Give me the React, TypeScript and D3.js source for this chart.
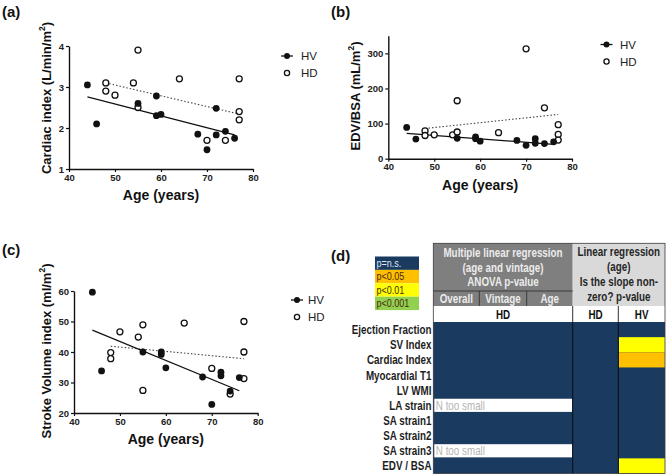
import React, { useEffect, useRef } from 'react';
import * as d3 from 'd3';

// ages of the subjects (same in every panel)
const hvAge = [44, 46, 55, 59, 59, 60, 68, 70, 72, 72, 74, 76];
const hdAge = [48, 48, 50, 54, 55, 55, 64, 70, 74, 77, 77, 77];

// (a) cardiac index
const ciHV = [3.05, 2.1, 2.6, 2.78, 2.3, 2.33, 1.85, 1.47, 2.48, 1.83, 1.92, 1.75];
const ciHD = [3.1, 2.9, 2.8, 3.1, 3.9, 2.5, 3.2, 1.7, 1.7, 3.2, 2.4, 2.2];
const ciFitHV: [number, number][] = [[44, 2.76], [76, 1.83]];
const ciFitHD: [number, number][] = [[48, 3.1], [77, 2.34]];

// (b) EDV/BSA
const edvHV = [89, 56, 58, 62, 57, 50, 52, 38, 57, 44, 43, 48];
const edvHD = [79, 66, 68, 68, 165, 76, 74, 313, 145, 97, 69, 53];
const edvFitHV: [number, number][] = [[44, 72], [76, 41]];
const edvFitHD: [number, number][] = [[48, 86], [77, 126]];

// (c) stroke volume index
const sviHV = [59.6, 33.8, 40, 40, 39.2, 34.8, 31.8, 22.8, 33.4, 32.2, 27.2, 31.6];
const sviHD = [39.8, 37.8, 46.6, 44.9, 48.9, 27.4, 49.5, 34.6, 26.2, 50, 40, 31.3];
const sviFitHV: [number, number][] = [[44, 47.2], [76, 27.3]];
const sviFitHD: [number, number][] = [[48, 41.9], [77, 37.8]];

const xTicks = [40, 50, 60, 70, 80];

// (d) table
const rowLabels = ['Ejection Fraction', 'SV Index', 'Cardiac Index', 'Myocardial T1', 'LV WMI',
  'LA strain', 'SA strain1', 'SA strain2', 'SA strain3', 'EDV / BSA'];
const mlrStatus = ['ns', 'ns', 'ns', 'ns', 'ns', 'small', 'ns', 'ns', 'small', 'ns'];
const hdSlopeStatus = ['ns', 'ns', 'ns', 'ns', 'ns', 'ns', 'ns', 'ns', 'ns', 'ns'];
const hvSlopeStatus = ['ns', 'p01', 'p05', 'ns', 'ns', 'ns', 'ns', 'ns', 'ns', 'p01'];
const legendKeys = ['ns', 'p05', 'p01', 'p001'];
const legendLabels = ['p=n.s.', 'p<0.05', 'p<0.01', 'p<0.001'];

const NAVY = '#1a3a60';
const statusColor: Record<string, string> = {
  ns: NAVY, p05: '#ffc000', p01: '#ffff00', p001: '#92d050', small: '#ffffff',
};

const FONT = 'Arial, "Liberation Sans", sans-serif';

interface PanelProps {
  tag: string;
  tagY: number;
  x0: number; x1: number;
  yDomain: [number, number];
  yRange: [number, number];
  yTicks: number[];
  hv: number[]; hd: number[];
  fitHV: [number, number][]; fitHD: [number, number][];
  title: string;
  titleX: number; titleY: number;
  xTitleY: number;
  legendX: number; legendY: number; legendTextX: number;
  tagX: number;
}

const ScatterPanel: React.FC<PanelProps> = (p) => {
  const ref = useRef<SVGGElement>(null);

  useEffect(() => {
    if (!ref.current) return;
    const g = d3.select(ref.current);
    g.selectAll('*').remove();

    const x = d3.scaleLinear().domain([40, 80]).range([p.x0, p.x1]);
    const y = d3.scaleLinear().domain(p.yDomain).range(p.yRange);

    const xAxis = g.append('g')
      .attr('transform', `translate(0,${p.yRange[0]})`)
      .call(d3.axisBottom(x).tickValues(xTicks).tickFormat(d3.format('d')).tickSize(3).tickSizeOuter(0).tickPadding(2));
    const yAxis = g.append('g')
      .attr('transform', `translate(${p.x0},0)`)
      .call(d3.axisLeft(y).tickValues(p.yTicks).tickFormat(d3.format('d')).tickSize(3).tickSizeOuter(0).tickPadding(2));
    [xAxis, yAxis].forEach(a => {
      a.select('.domain').attr('stroke', '#111').attr('stroke-width', 1.4);
      a.selectAll('.tick line').attr('stroke', '#111').attr('stroke-width', 1.2);
      a.selectAll('.tick text')
        .attr('font-family', FONT).attr('font-size', 9.5).attr('font-weight', 'bold').attr('fill', '#222');
    });

    const line = d3.line<[number, number]>().x(d => x(d[0])).y(d => y(d[1]));
    g.append('path').attr('d', line(p.fitHD) || '')
      .attr('stroke', '#444').attr('stroke-width', 1.1).attr('stroke-dasharray', '1.5,2')
      .attr('fill', 'none');
    g.append('path').attr('d', line(p.fitHV) || '')
      .attr('stroke', '#111').attr('stroke-width', 1.3).attr('fill', 'none');

    g.selectAll('.hd').data(p.hd).enter().append('circle')
      .attr('cx', (d, i) => x(hdAge[i])).attr('cy', d => y(d)).attr('r', 3)
      .attr('fill', '#fff').attr('stroke', '#111').attr('stroke-width', 1.3);
    g.selectAll('.hv').data(p.hv).enter().append('circle')
      .attr('cx', (d, i) => x(hvAge[i])).attr('cy', d => y(d)).attr('r', 3.4)
      .attr('fill', '#111');

    // legend
    const lg = g.append('g');
    lg.append('line').attr('x1', p.legendX - 6).attr('x2', p.legendX + 6)
      .attr('y1', p.legendY).attr('y2', p.legendY).attr('stroke', '#111').attr('stroke-width', 1.3);
    lg.append('circle').attr('cx', p.legendX).attr('cy', p.legendY).attr('r', 3).attr('fill', '#111');
    lg.append('circle').attr('cx', p.legendX).attr('cy', p.legendY + 17).attr('r', 2.6)
      .attr('fill', '#fff').attr('stroke', '#111').attr('stroke-width', 1.3);
    lg.selectAll('.lt').data(['HV', 'HD']).enter().append('text')
      .attr('x', p.legendTextX).attr('y', (d, i) => p.legendY + 4 + i * 17)
      .attr('font-family', FONT).attr('font-size', 11.5).attr('fill', '#222')
      .text(d => d);
  }, [p]);

  const xMid = (p.x0 + p.x1) / 2;
  return (
    <g>
      <text x={p.tagX} y={p.tagY} fontFamily={FONT} fontWeight="bold" fontSize={15} fill="#111">{p.tag}</text>
      <g ref={ref} />
      <text x={xMid} y={p.xTitleY} textAnchor="middle" fontFamily={FONT} fontWeight="bold"
        fontSize={14} fill="#111">Age (years)</text>
      <text transform={`translate(${p.titleX},${p.titleY}) rotate(-90)`} textAnchor="middle"
        fontFamily={FONT} fontWeight="bold" fontSize={13} fill="#111">
        {p.title}<tspan fontSize={8.5} dy={-6}>2</tspan><tspan dy={6}>)</tspan>
      </text>
    </g>
  );
};

// the table font is a narrow one, so squeeze Arial horizontally
const Narrow: React.FC<{
  x: number; y: number; anchor?: string; size?: number; bold?: boolean; fill: string; children: React.ReactNode;
}> = ({ x, y, anchor = 'start', size = 12, bold = true, fill, children }) => (
  <text transform={`translate(${x},${y}) scale(0.82,1)`} textAnchor={anchor} fontFamily={FONT}
    fontSize={size} fontWeight={bold ? 'bold' : 'normal'} fill={fill}>{children}</text>
);

const TablePanel: React.FC = () => {
  const tx0 = 433.3, txMid = 572.7, txHv = 618.3, tx1 = 665;
  const hy0 = 243.3, subY = 291, hdY = 306, bodyY = 322;
  const rowH = 15.15;
  const subCols = [433.3, 479.3, 526.7, 572.7];
  const subLabels = ['Overall', 'Vintage', 'Age'];
  const bodyBottom = bodyY + rowH * rowLabels.length;
  const leftLines = ['Multiple linear regression', '(age and vintage)', 'ANOVA p-value'];
  const rightLines = ['Linear regression', '(age)', 'Is the slope non-', 'zero? p-value'];
  const leftMid = (tx0 + txMid) / 2, rightMid = (txMid + tx1) / 2;

  return (
    <g>
      <text x={331} y={261} fontFamily={FONT} fontWeight="bold" fontSize={15} fill="#111">(d)</text>

      {/* p-value colour key */}
      {legendKeys.map((k, i) => (
        <g key={k}>
          <rect x={375} y={256.5 + i * 13.4} width={44} height={13.4} fill={statusColor[k]} />
          <Narrow x={376.5} y={267 + i * 13.4} size={11} bold={false}
            fill={k === 'ns' ? '#dfe8f5' : '#4a2a10'}>{legendLabels[i]}</Narrow>
        </g>
      ))}

      {/* header */}
      <rect x={tx0} y={hy0} width={txMid - tx0} height={hdY - hy0} fill="#7f7f7f" />
      <rect x={txMid} y={hy0} width={tx1 - txMid} height={hdY - hy0} fill="#d9d9d9" />
      <line x1={tx0} x2={txMid} y1={subY} y2={subY} stroke="#3a3a3a" strokeWidth={1} />
      {subCols.slice(1, 3).map(c => (
        <line key={c} x1={c} x2={c} y1={subY} y2={hdY} stroke="#3a3a3a" strokeWidth={1} />
      ))}
      {leftLines.map((t, i) => (
        <Narrow key={t} x={leftMid} y={257 + i * 14.6} anchor="middle" fill="#ececec">{t}</Narrow>
      ))}
      {subLabels.map((t, i) => (
        <Narrow key={t} x={(subCols[i] + subCols[i + 1]) / 2} y={302.5} anchor="middle"
          fill="#ececec">{t}</Narrow>
      ))}
      {rightLines.map((t, i) => (
        <Narrow key={t} x={rightMid} y={255.5 + i * 15} anchor="middle" fill="#262626">{t}</Narrow>
      ))}

      {/* HD / HD / HV row */}
      <rect x={tx0} y={hdY} width={tx1 - tx0} height={bodyY - hdY} fill="#fff" />
      {[[tx0, txMid, 'HD'], [txMid, txHv, 'HD'], [txHv, tx1, 'HV']].map(([a, b, t], i) => (
        <Narrow key={i} x={((a as number) + (b as number)) / 2} y={318.5} anchor="middle"
          fill="#111">{t}</Narrow>
      ))}
      {[txMid, txHv].map(c => (
        <line key={c} x1={c} x2={c} y1={hdY} y2={bodyY} stroke="#333" strokeWidth={1} />
      ))}

      {/* body */}
      <rect x={tx0} y={bodyY} width={tx1 - tx0} height={bodyBottom - bodyY} fill={NAVY} />
      {rowLabels.map((lab, i) => {
        const ry = bodyY + i * rowH;
        return (
          <g key={lab}>
            <Narrow x={431.5} y={ry + rowH / 2 + 4.5} anchor="end" fill="#1e1e1e">{lab}</Narrow>
            {mlrStatus[i] !== 'ns' && (
              <g>
                <rect x={tx0 + 1} y={ry + 1} width={txMid - tx0 - 1.5} height={rowH - 2}
                  fill={statusColor[mlrStatus[i]]} />
                {mlrStatus[i] === 'small' && (
                  <Narrow x={tx0 + 2.5} y={ry + rowH / 2 + 4.5} bold={false} fill="#b4b4b4">N too small</Narrow>
                )}
              </g>
            )}
            {hdSlopeStatus[i] !== 'ns' && (
              <rect x={txMid + 0.5} y={ry} width={txHv - txMid - 1} height={rowH}
                fill={statusColor[hdSlopeStatus[i]]} />
            )}
            {hvSlopeStatus[i] !== 'ns' && (
              <rect x={txHv + 0.5} y={ry} width={tx1 - txHv - 0.5} height={rowH}
                fill={statusColor[hvSlopeStatus[i]]} />
            )}
          </g>
        );
      })}
      {[txMid, txHv].map(c => (
        <line key={c} x1={c} x2={c} y1={bodyY} y2={bodyBottom} stroke="#0b0b14" strokeWidth={1} />
      ))}
      <rect x={tx0} y={hy0} width={tx1 - tx0} height={bodyBottom - hy0} fill="none"
        stroke="#3a3a3a" strokeWidth={0.8} />
    </g>
  );
};

const panelA: PanelProps = {
  tag: '(a)', tagX: 2, tagY: 17, x0: 69, x1: 253, yDomain: [1, 4], yRange: [169, 46],
  yTicks: [1, 2, 3, 4], hv: ciHV, hd: ciHD, fitHV: ciFitHV, fitHD: ciFitHD,
  title: 'Cardiac index (L/min/m', titleX: 51, titleY: 98, xTitleY: 200,
  legendX: 287, legendY: 56, legendTextX: 301,
};
const panelB: PanelProps = {
  tag: '(b)', tagX: 331, tagY: 17, x0: 388.3, x1: 572, yDomain: [0, 350], yRange: [158.7, 35.8],
  yTicks: [0, 100, 200, 300], hv: edvHV, hd: edvHD, fitHV: edvFitHV, fitHD: edvFitHD,
  title: 'EDV/BSA (mL/m', titleX: 360, titleY: 96, xTitleY: 190,
  legendX: 606.5, legendY: 44.5, legendTextX: 620,
};
const panelC: PanelProps = {
  tag: '(c)', tagX: 2, tagY: 255, x0: 74, x1: 257.7, yDomain: [20, 60], yRange: [413, 291],
  yTicks: [20, 30, 40, 50, 60], hv: sviHV, hd: sviHD, fitHV: sviFitHV, fitHD: sviFitHD,
  title: 'Stroke Volume index (ml/m', titleX: 51, titleY: 351, xTitleY: 444,
  legendX: 297, legendY: 300, legendTextX: 308,
};

export default function App() {
  return (
    <svg width={667} height={476} style={{ position: 'absolute', left: 0, top: 0, background: '#fff' }}>
      <rect width={667} height={476} fill="#fff" />
      <ScatterPanel {...panelA} />
      <ScatterPanel {...panelB} />
      <ScatterPanel {...panelC} />
      <TablePanel />
    </svg>
  );
}
